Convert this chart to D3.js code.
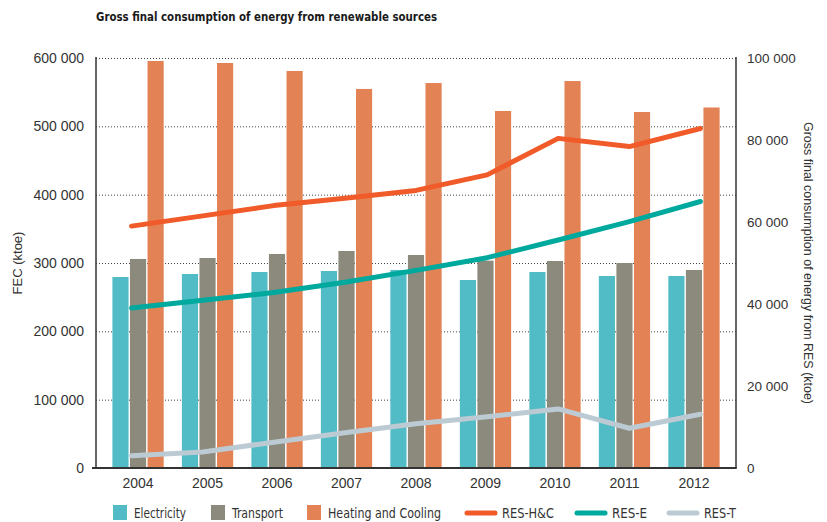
<!DOCTYPE html>
<html>
<head>
<meta charset="utf-8">
<script src="https://cdn.jsdelivr.net/npm/d3@7"></script>
<style>
  html, body { margin: 0; padding: 0; background: #fff; }
  svg text { fill: #333; }
  .narrow { font-family: "Liberation Sans Narrow", "DejaVu Sans Condensed", "Arial Narrow", sans-serif; font-stretch: condensed; }
  .reg { font-family: "Liberation Sans", Arial, sans-serif; }
</style>
</head>
<body>
<svg id="chart" width="827" height="522"></svg>
<script>
// Years on the category axis
const years = ["2004", "2005", "2006", "2007", "2008", "2009", "2010", "2011", "2012"];

// Final energy consumption by sector (ktoe, left axis)
const electricity = [279500, 283900, 286800, 288300, 289800, 275100, 286800, 281000, 281000];
const transport   = [305900, 307300, 313200, 317600, 311700, 303400, 302900, 300000, 289800];
const heatCool    = [595600, 592700, 581000, 554700, 563400, 522500, 566300, 521000, 527600];

// Gross final consumption of renewable energy (ktoe, right axis)
const resHC = [59000, 61500, 64000, 65800, 67700, 71500, 80400, 78400, 82800];
const resE  = [39000, 40900, 42800, 45300, 48200, 51300, 55600, 60100, 65000];
const resT  = [3000, 3900, 6300, 8600, 10800, 12500, 14400, 9700, 13100];

// Axis ticks
const leftTicks  = [0, 100000, 200000, 300000, 400000, 500000, 600000];
const rightTicks = [0, 20000, 40000, 60000, 80000, 100000];

const barSeries = [
  { name: "Electricity", values: electricity, color: "#52bcc6", w: 52 },
  { name: "Transport", values: transport, color: "#8c8a7c", w: 51 },
  { name: "Heating and Cooling", values: heatCool, color: "#e38255", w: 113 }
];
const lineSeries = [
  { name: "RES-H&C", values: resHC, color: "#f15a29", w: 52 },
  { name: "RES-E", values: resE, color: "#00a99d", w: 35 },
  { name: "RES-T", values: resT, color: "#bccbd3", w: 32 }
];

const fmt = v => d3.format(",")(v).replace(/,/g, " ");

const svg = d3.select("#chart");
const L = 96, R = 736, T = 58, B = 468;

const yL = d3.scaleLinear().domain([0, 600000]).range([B, T]);
const yR = d3.scaleLinear().domain([0, 100000]).range([B, T]);

const x = d3.scaleBand().domain(years).range([L, R]).paddingInner(0.262).paddingOuter(0.236);
const xSub = d3.scaleBand().domain(barSeries.map(s => s.name)).range([0, x.bandwidth()]).paddingInner(0.08);
const xLine = d3.scalePoint().domain(years).range([L, R]).padding(0.5);

// Title
svg.append("text").attr("class", "narrow")
  .attr("x", 96).attr("y", 21)
  .attr("textLength", 341).attr("lengthAdjust", "spacingAndGlyphs")
  .style("font-size", "13px").style("font-weight", "bold").style("fill", "#1a1a1a")
  .text("Gross final consumption of energy from renewable sources");

// Dotted gridlines
svg.append("g").selectAll("line").data(leftTicks.filter(d => d > 0)).join("line")
  .attr("x1", L).attr("x2", R)
  .attr("y1", d => yL(d) + 0.5).attr("y2", d => yL(d) + 0.5)
  .attr("stroke", "#444").attr("stroke-width", 1).attr("stroke-dasharray", "1,2");

// Bars
const groups = svg.append("g").selectAll("g").data(years).join("g")
  .attr("transform", d => `translate(${x(d)},0)`);
groups.selectAll("rect").data((d, i) => barSeries.map(s => ({ s, v: s.values[i] }))).join("rect")
  .attr("x", d => xSub(d.s.name))
  .attr("width", xSub.bandwidth())
  .attr("y", d => yL(d.v))
  .attr("height", d => yL(0) - yL(d.v))
  .attr("fill", d => d.s.color);

// Lines
const line = d3.line().x((d, i) => xLine(years[i])).y(d => yR(d));
svg.append("g").selectAll("path").data(lineSeries).join("path")
  .attr("d", d => line(d.values))
  .attr("fill", "none")
  .attr("stroke", d => d.color)
  .attr("stroke-width", 5)
  .attr("stroke-linecap", "round")
  .attr("stroke-linejoin", "round");

// Axis frame
const ax = svg.append("g").attr("stroke", "#333");
ax.append("line").attr("x1", L).attr("x2", L).attr("y1", T - 1).attr("y2", B).attr("stroke-width", 1.5);
ax.append("line").attr("x1", R).attr("x2", R).attr("y1", T - 1).attr("y2", B).attr("stroke-width", 1.5);
ax.append("line").attr("x1", L - 4).attr("x2", R + 0.75).attr("y1", B).attr("y2", B).attr("stroke-width", 2);

// Left axis labels
const leftAxis = d3.axisLeft(yL).tickValues(leftTicks).tickFormat(fmt).tickSize(0).tickPadding(12);
const gl = svg.append("g").attr("transform", `translate(${L},0)`).call(leftAxis);
gl.select(".domain").remove();
gl.selectAll("text").attr("class", "reg").style("font-size", "14px").style("fill", "#333");

// Right axis labels
const rightAxis = d3.axisRight(yR).tickValues(rightTicks).tickFormat(fmt).tickSize(0).tickPadding(11);
const gr = svg.append("g").attr("transform", `translate(${R},0)`).call(rightAxis);
gr.select(".domain").remove();
gr.selectAll("text").attr("class", "reg").style("font-size", "13.5px").style("fill", "#333");

// Category labels
const bottomAxis = d3.axisBottom(x).tickSize(0).tickPadding(10);
const gb = svg.append("g").attr("transform", `translate(0,${B})`).call(bottomAxis);
gb.select(".domain").remove();
gb.selectAll("text").attr("class", "reg").style("font-size", "14px").style("fill", "#333");

// Axis titles
svg.append("text").attr("class", "reg")
  .attr("transform", `translate(22,${(T + B) / 2}) rotate(-90)`)
  .attr("text-anchor", "middle").style("font-size", "13px")
  .text("FEC (ktoe)");
svg.append("text").attr("class", "reg")
  .attr("transform", `translate(804,${(T + B) / 2}) rotate(90)`)
  .attr("text-anchor", "middle").style("font-size", "13px")
  .attr("textLength", 282).attr("lengthAdjust", "spacingAndGlyphs")
  .text("Gross final consumption of energy from RES (ktoe)");

// Legend
const legY = 513;
const barLegX = [113, 211, 307];
const lg = svg.append("g");
barSeries.forEach((s, i) => {
  lg.append("rect").attr("x", barLegX[i]).attr("y", legY - 8).attr("width", 14).attr("height", 15).attr("fill", s.color);
  lg.append("text").attr("class", "narrow").attr("x", barLegX[i] + 21).attr("y", legY + 5)
    .attr("textLength", s.w).attr("lengthAdjust", "spacingAndGlyphs")
    .style("font-size", "13.5px").text(s.name);
});
const lineLegX = [467, 577, 669];
lineSeries.forEach((s, i) => {
  lg.append("line").attr("x1", lineLegX[i]).attr("x2", lineLegX[i] + 28).attr("y1", legY).attr("y2", legY)
    .attr("stroke", s.color).attr("stroke-width", 5).attr("stroke-linecap", "round");
  lg.append("text").attr("class", "narrow").attr("x", lineLegX[i] + 35).attr("y", legY + 5)
    .attr("textLength", s.w).attr("lengthAdjust", "spacingAndGlyphs")
    .style("font-size", "13.5px").text(s.name);
});
</script>
</body>
</html>
